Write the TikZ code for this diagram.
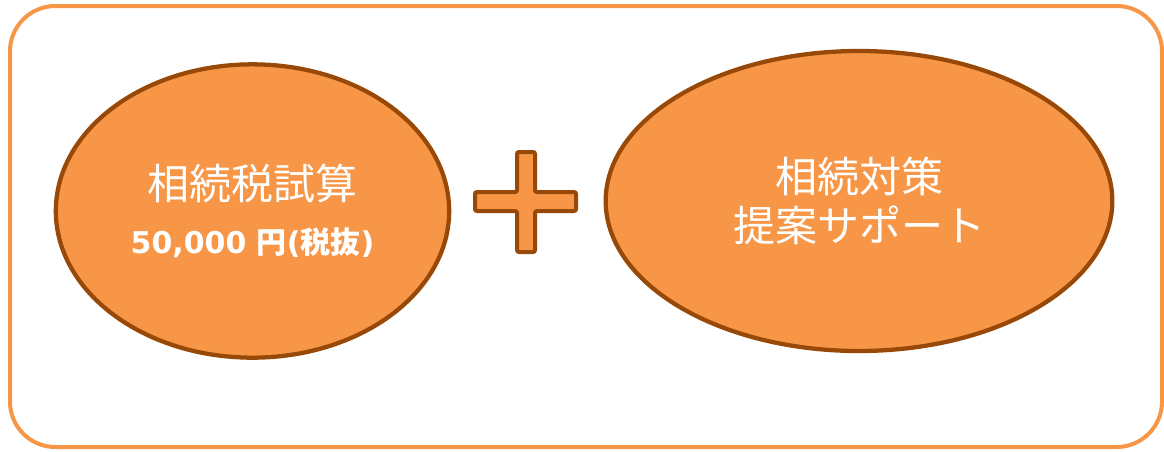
\documentclass[tikz,border=0pt]{standalone}
\usepackage{fontspec}
\newfontfamily\cjk{Noto Sans CJK JP}
\newfontfamily\latinbold{DejaVu Sans}
\usepackage{tikz}
\usetikzlibrary{shapes.geometric}
\usepackage{xcolor}
\definecolor{panelorange}{RGB}{247,150,70}
\definecolor{rimbrown}{RGB}{152,72,7}

\begin{document}
\begin{tikzpicture}[x=0.75pt,y=0.75pt,yscale=-1,xscale=1]
\useasboundingbox (0,0) rectangle (1164,451);

%Shape: Rounded Rect [id:frame]
\draw [color=panelorange, line width=3pt, rounded corners=34pt] (10,6) rectangle (1162,447) ;

%Shape: Ellipse [id:estimate]
\node (estimate) [ellipse, draw=rimbrown, line width=3.2pt, fill=panelorange, minimum width=295pt, minimum height=220pt, inner sep=0pt, text=white, align=center, font=\cjk\fontsize{31.5}{37}\selectfont] at (252.5,211) {相続税試算\\[3pt]{\bfseries\fontsize{22.5}{26}\selectfont{\latinbold 50,000 }円{\latinbold (}税抜{\latinbold )}}};

%Shape: Ellipse [id:support]
\node (support) [ellipse, draw=rimbrown, line width=3.2pt, fill=panelorange, minimum width=380pt, minimum height=225pt, inner sep=0pt, text=white, align=center, font=\cjk\fontsize{31.5}{37}\selectfont] at (859,201) {相続対策\\提案サポート};

%Shape: Plus [id:plus]
\draw [draw=rimbrown, line width=3pt, fill=panelorange, rounded corners=1.5pt] (517,152) -- (535,152) -- (535,192) -- (576,192) -- (576,211) -- (535,211) -- (535,252) -- (517,252) -- (517,211) -- (475,211) -- (475,192) -- (517,192) -- cycle ;

\end{tikzpicture}
\end{document}
